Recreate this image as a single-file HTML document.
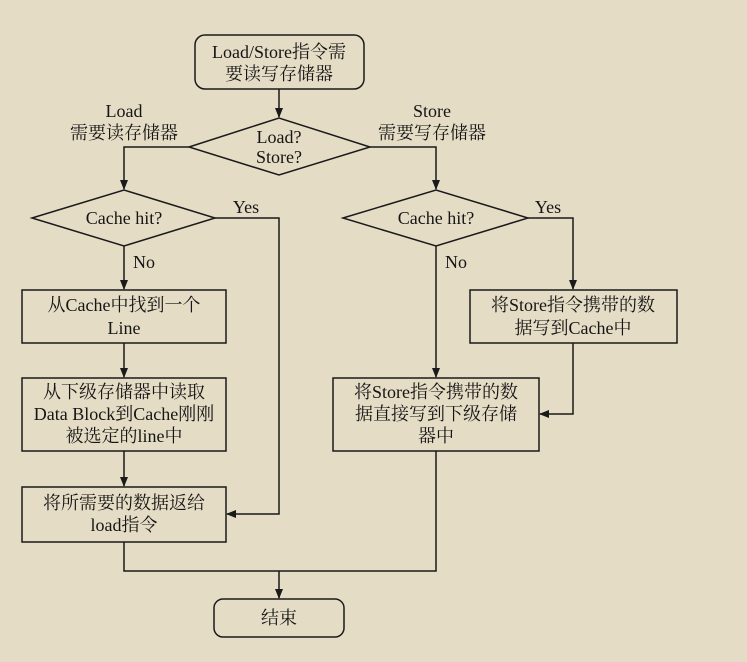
<!DOCTYPE html>
<html><head><meta charset="utf-8"><style>
body{margin:0;background:#e5dcc5;}
svg{display:block}
text{font-family:"Liberation Serif","Noto Serif CJK SC",serif;font-size:18px;fill:#151515;text-anchor:middle}
</style></head><body>
<svg width="747" height="662" viewBox="0 0 747 662" xmlns="http://www.w3.org/2000/svg">
<defs><marker id="a" markerWidth="10" markerHeight="12" refX="9" refY="5" orient="auto" markerUnits="userSpaceOnUse"><path d="M0,1 L10,5 L0,9 z" fill="#1a1a1a"/></marker></defs>
<g fill="none" stroke="#1a1a1a" stroke-width="1.5">
<rect x="195" y="35" width="169" height="54" rx="10"/>
<polygon points="189,147 279,118 370,147 279,175"/>
<polygon points="32,218 124,190 215,218 124,246"/>
<polygon points="343,218 436,190 528,218 436,246"/>
<rect x="22" y="290" width="204" height="53"/>
<rect x="22" y="378" width="204" height="73"/>
<rect x="22" y="487" width="204" height="55"/>
<rect x="470" y="290" width="207" height="53"/>
<rect x="333" y="378" width="206" height="73"/>
<rect x="214" y="599" width="130" height="38" rx="9"/>
<path d="M279,89 V117" marker-end="url(#a)"/>
<path d="M189,147 H124 V189" marker-end="url(#a)"/>
<path d="M370,147 H436 V189" marker-end="url(#a)"/>
<path d="M124,246 V289" marker-end="url(#a)"/>
<path d="M124,343 V377" marker-end="url(#a)"/>
<path d="M124,451 V486" marker-end="url(#a)"/>
<path d="M215,218 H279 V514 H227" marker-end="url(#a)"/>
<path d="M436,246 V377" marker-end="url(#a)"/>
<path d="M528,218 H573 V289" marker-end="url(#a)"/>
<path d="M573,343 V414 H540" marker-end="url(#a)"/>
<path d="M124,542 V571 H436 V451"/>
<path d="M279,571 V598" marker-end="url(#a)"/>
</g>
<text x="279" y="58">Load/Store指令需</text>
<text x="279" y="80">要读写存储器</text>
<text x="279" y="143">Load?</text>
<text x="279" y="163">Store?</text>
<text x="124" y="117">Load</text>
<text x="124" y="139">需要读存储器</text>
<text x="432" y="117">Store</text>
<text x="432" y="139">需要写存储器</text>
<text x="124" y="224">Cache hit?</text>
<text x="436" y="224">Cache hit?</text>
<text x="246" y="213">Yes</text>
<text x="548" y="213">Yes</text>
<text x="144" y="268">No</text>
<text x="456" y="268">No</text>
<text x="124" y="311">从Cache中找到一个</text>
<text x="124" y="334">Line</text>
<text x="124" y="398">从下级存储器中读取</text>
<text x="124" y="420">Data Block到Cache刚刚</text>
<text x="124" y="442">被选定的line中</text>
<text x="124" y="509">将所需要的数据返给</text>
<text x="124" y="531">load指令</text>
<text x="573" y="311">将Store指令携带的数</text>
<text x="573" y="334">据写到Cache中</text>
<text x="436" y="398">将Store指令携带的数</text>
<text x="436" y="420">据直接写到下级存储</text>
<text x="436" y="442">器中</text>
<text x="279" y="624">结束</text>
</svg>
</body></html>
